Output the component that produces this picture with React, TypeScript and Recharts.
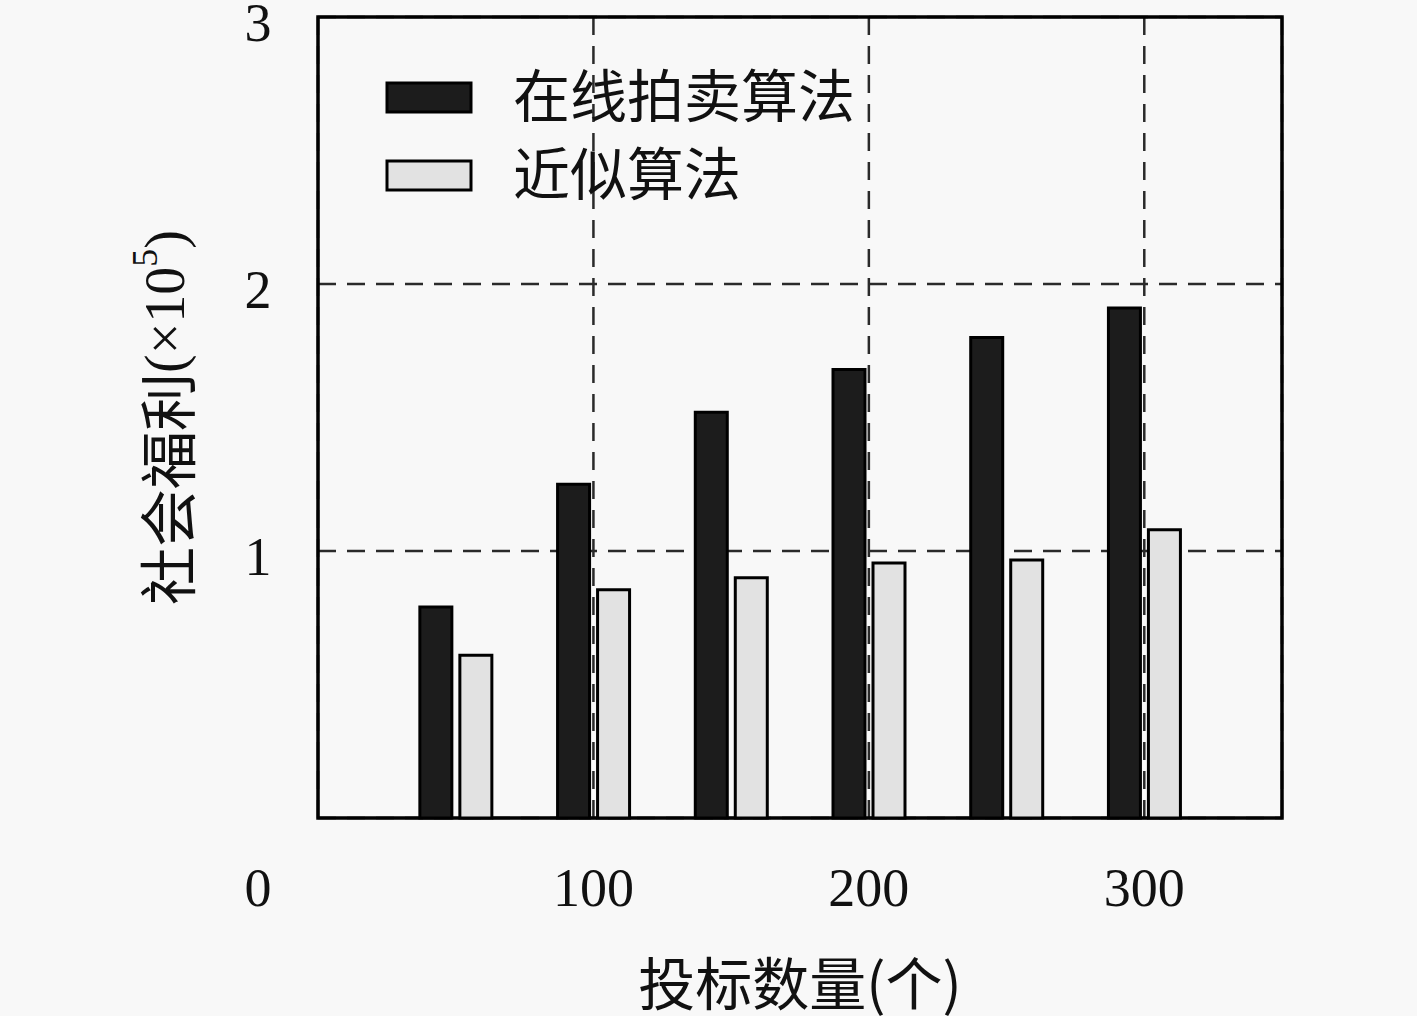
import React from 'react';
import { BarChart, Bar, XAxis, YAxis, CartesianGrid, ReferenceArea } from 'recharts';

// bid counts (x positions) and social welfare in units of 1e5
const bidCounts = [50, 100, 150, 200, 250, 300];
const onlineAuction = [0.79, 1.25, 1.52, 1.68, 1.8, 1.91];
const approximation = [0.61, 0.855, 0.9, 0.955, 0.966, 1.08];

const seriesNames = ['在线拍卖算法', '近似算法'];
const seriesFills = ['#1c1c1c', '#e2e2e2'];

const xTicks = [100, 200, 300];
const yTicks = [0, 1, 2, 3];

const data = bidCounts.map((x, i) => ({
  x,
  online: onlineAuction[i],
  approx: approximation[i],
}));

const numFont = '"Liberation Serif", "DejaVu Serif", serif';
const cjkFont = '"Noto Sans CJK SC", "Liberation Serif", serif';
const bg = '#f8f8f8';

function XTick({ x, y, payload }: any) {
  return (
    <text x={x} y={y + 70} textAnchor="middle" dominantBaseline="central" fontFamily={numFont} fontSize={54} fill="#111">
      {payload.value}
    </text>
  );
}

function YTick({ x, y, payload }: any) {
  // the origin label sits at the corner, in line with the x tick labels
  const isZero = payload.value === 0;
  return (
    <text
      x={x - 60}
      y={isZero ? y + 70 : y + 6}
      textAnchor="middle"
      dominantBaseline="central"
      fontFamily={numFont}
      fontSize={54}
      fill="#111"
    >
      {payload.value}
    </text>
  );
}

function XTitle({ viewBox }: any) {
  const cx = viewBox.x + viewBox.width / 2;
  return (
    <text x={cx} y={viewBox.y + 162} textAnchor="middle" dominantBaseline="central" fontFamily={cjkFont} fontSize={57} fill="#111">
      投标数量(个)
    </text>
  );
}

function YTitle({ viewBox }: any) {
  const cy = viewBox.y + viewBox.height / 2;
  const cx = 165;
  return (
    <text
      x={cx}
      y={cy}
      transform={`rotate(-90 ${cx} ${cy})`}
      textAnchor="middle"
      dominantBaseline="central"
      fontFamily={cjkFont}
      fontSize={58}
      fill="#111"
    >
      社会福利
      <tspan fontFamily={numFont} fontSize={56}>(×10</tspan>
      <tspan fontFamily={numFont} fontSize={36} dy={-20}>5</tspan>
      <tspan fontFamily={numFont} fontSize={56} dy={20}>)</tspan>
    </text>
  );
}

function LegendBox() {
  return (
    <div style={{ position: 'absolute', left: 385, top: 59 }}>
      {seriesNames.map((name, i) => (
        <div key={name} style={{ display: 'flex', alignItems: 'center', height: 78 }}>
          <svg width={90} height={36}>
            <rect x={2} y={3} width={84} height={29} fill={seriesFills[i]} stroke="#000" strokeWidth={3} />
          </svg>
          <span
            style={{
              marginLeft: 38,
              fontFamily: cjkFont,
              fontSize: 57,
              color: '#111',
              lineHeight: 1,
              position: 'relative',
              top: -6,
            }}
          >
            {name}
          </span>
        </div>
      ))}
    </div>
  );
}

export default function App() {
  return (
    <div style={{ position: 'absolute', left: 0, top: 0, width: 1417, height: 1016, background: bg }}>
      <BarChart
        width={1417}
        height={1016}
        data={data}
        margin={{ top: 17, right: 135, left: 0, bottom: 0 }}
        barSize={32}
        barGap={8}
      >
        <XAxis
          dataKey="x"
          type="number"
          domain={[0, 350]}
          ticks={xTicks}
          height={198}
          axisLine={false}
          tickLine={false}
          tickSize={0}
          tickMargin={0}
          tick={<XTick />}
          label={<XTitle />}
        />
        <YAxis
          type="number"
          domain={[0, 3]}
          ticks={yTicks}
          width={318}
          axisLine={false}
          tickLine={false}
          tickSize={0}
          tickMargin={0}
          tick={<YTick />}
          label={<YTitle />}
        />
        <Bar dataKey="online" name={seriesNames[0]} fill={seriesFills[0]} stroke="#000" strokeWidth={3} isAnimationActive={false} />
        <Bar dataKey="approx" name={seriesNames[1]} fill={seriesFills[1]} stroke="#000" strokeWidth={3} isAnimationActive={false} />
        <CartesianGrid stroke="#2a2a2a" strokeWidth={2.5} strokeDasharray="18 11" fill="none" />
        <ReferenceArea x1={0} x2={350} y1={0} y2={3} fill="none" fillOpacity={0} stroke="#000" strokeWidth={3.5} />
      </BarChart>
      <LegendBox />
    </div>
  );
}
